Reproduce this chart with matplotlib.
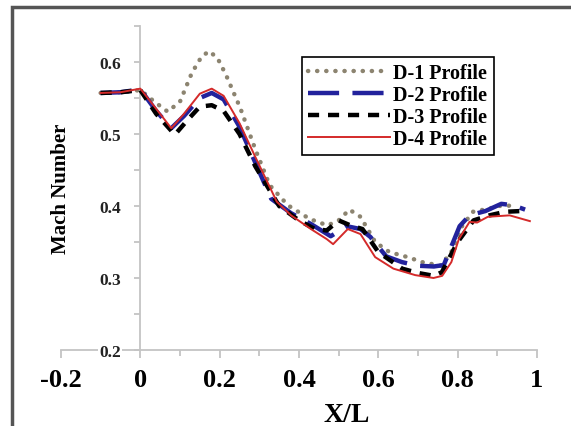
import matplotlib
matplotlib.use("Agg")
import matplotlib.pyplot as plt
import numpy as np
from matplotlib.patches import Rectangle
from matplotlib.ticker import MultipleLocator, FixedLocator

## data
x_d1 = [-0.1, -0.05, 0.0, 0.035, 0.069, 0.1, 0.13, 0.155, 0.174, 0.195, 0.216, 0.252, 0.289, 0.326,
        0.372, 0.427, 0.472, 0.5, 0.527, 0.555, 0.592, 0.628, 0.674, 0.711, 0.757, 0.784, 0.812,
        0.839, 0.876, 0.913, 0.94]
y_d1 = [0.557, 0.558, 0.561, 0.545, 0.531, 0.545, 0.585, 0.608, 0.615, 0.605, 0.582, 0.536, 0.48, 0.429,
        0.401, 0.382, 0.373, 0.38, 0.395, 0.385, 0.35, 0.336, 0.329, 0.322, 0.317, 0.336, 0.373,
        0.392, 0.396, 0.401, 0.400]

x_d2 = [-0.1, -0.05, 0.0, 0.04, 0.078, 0.11, 0.15, 0.18, 0.21, 0.25, 0.29, 0.33, 0.38, 0.43,
        0.48, 0.52, 0.555, 0.58, 0.62, 0.66, 0.7, 0.74, 0.765, 0.785, 0.805, 0.83, 0.87, 0.91,
        0.94, 0.97]
y_d2 = [0.557, 0.558, 0.562, 0.532, 0.508, 0.525, 0.55, 0.557, 0.548, 0.51, 0.46, 0.41, 0.39, 0.375,
        0.358, 0.372, 0.368, 0.357, 0.33, 0.322, 0.317, 0.316, 0.318, 0.345, 0.372, 0.387, 0.393, 0.403,
        0.401, 0.395]

x_d3 = [-0.1, -0.05, 0.0, 0.04, 0.087, 0.12, 0.15, 0.18, 0.21, 0.25, 0.29, 0.35, 0.4, 0.44,
        0.47, 0.5, 0.53, 0.56, 0.6, 0.66, 0.7, 0.74, 0.76, 0.8, 0.84, 0.88, 0.92, 0.96]
y_d3 = [0.557, 0.558, 0.561, 0.528, 0.499, 0.52, 0.538, 0.54, 0.532, 0.5, 0.455, 0.40, 0.38, 0.368,
        0.366, 0.38, 0.373, 0.368, 0.336, 0.313, 0.307, 0.303, 0.308, 0.35, 0.38, 0.387, 0.392, 0.393]

x_d4 = [-0.1, -0.05, 0.0, 0.04, 0.078, 0.11, 0.15, 0.18, 0.21, 0.25, 0.29, 0.344, 0.38, 0.43, 0.47,
        0.486, 0.523, 0.555, 0.592, 0.638, 0.693, 0.739, 0.761, 0.784, 0.803, 0.83, 0.849, 0.876,
        0.931, 0.982]
y_d4 = [0.557, 0.558, 0.563, 0.535, 0.508, 0.528, 0.556, 0.563, 0.553, 0.515, 0.468, 0.406, 0.387,
        0.368, 0.354, 0.347, 0.368, 0.361, 0.329, 0.313, 0.304, 0.300, 0.303, 0.322, 0.354, 0.378,
        0.377, 0.385, 0.387, 0.379]

labels = ["D-1 Profile", "D-2 Profile", "D-3 Profile", "D-4 Profile"]

serif = ["Liberation Serif", "DejaVu Serif"]

fig = plt.figure(figsize=(5.71, 4.27), dpi=100)
ax = fig.add_axes([61/571, 1 - 351/427, 476/571, 324/427])

ax.plot(x_d1, y_d1, color="#8c8470", lw=3.2, linestyle=(0, (0.05, 2.0)),
        dash_capstyle="round", label=labels[0])
ax.plot(x_d2, y_d2, color="#22229c", lw=3.2, linestyle=(0, (7, 3)), label=labels[1])
ax.plot(x_d3, y_d3, color="black", lw=3.2, linestyle=(0, (2.5, 2)), label=labels[2])
ax.plot(x_d4, y_d4, color="#d42a2a", lw=1.4, label=labels[3])

ax.set_xlim(-0.2, 1.0)
ax.set_ylim(0.2, 0.65)

for s in ["top", "right"]:
    ax.spines[s].set_visible(False)
ax.spines["left"].set_position(("data", 0))
for s in ["left", "bottom"]:
    ax.spines[s].set_color("#c4c4c4")
    ax.spines[s].set_linewidth(1.3)
    ax.spines[s].set_zorder(0.1)

ax.xaxis.set_major_locator(FixedLocator([-0.2, 0, 0.2, 0.4, 0.6, 0.8, 1.0]))
ax.xaxis.set_minor_locator(MultipleLocator(0.1))
ax.yaxis.set_major_locator(FixedLocator([0.2, 0.3, 0.4, 0.5, 0.6]))
ax.yaxis.set_minor_locator(MultipleLocator(0.05))
ax.set_xticklabels(["-0.2", "0", "0.2", "0.4", "0.6", "0.8", "1"])
ax.set_yticklabels(["0.2", "0.3", "0.4", "0.5", "0.6"])

ax.tick_params(axis="both", which="both", direction="out", color="#c4c4c4", width=1.3)
ax.tick_params(axis="x", which="major", length=6, pad=7)
ax.tick_params(axis="x", which="minor", length=4)
ax.tick_params(axis="y", which="both", length=4, pad=10)

for t in ax.get_xticklabels():
    t.set_fontfamily(serif)
    t.set_fontweight("bold")
    t.set_fontsize(19)
for t in ax.get_yticklabels():
    t.set_fontfamily(serif)
    t.set_fontweight("bold")
    t.set_fontsize(12.5)
    t.set_color("#222222")
    t.set_bbox(dict(facecolor="white", edgecolor="none", pad=1))

ax.set_xlabel("X/L", family=serif, fontweight="bold", fontsize=20)
ax.xaxis.set_label_coords(0.6, -0.16)
ax.set_ylabel("Mach Number", family=serif, fontweight="bold", fontsize=15)
ax.yaxis.set_label_coords(0.021, 0.5)

leg = ax.legend(loc="upper left", bbox_to_anchor=(0.506, 0.904), borderaxespad=0,
                prop={"family": serif, "weight": "bold", "size": 14.5},
                handlelength=4.1, handletextpad=0.15, labelspacing=0.1,
                borderpad=0.3, fancybox=False, framealpha=1)
leg.get_frame().set_edgecolor("black")
leg.get_frame().set_linewidth(1.2)

# outer border of the picture
fig.patches.append(Rectangle((12/571, -0.1), 1.2, 1.1 - 8/427, transform=fig.transFigure,
                             fill=False, edgecolor="#555555", lw=2.5))

fig.savefig("out.png", dpi=100)
